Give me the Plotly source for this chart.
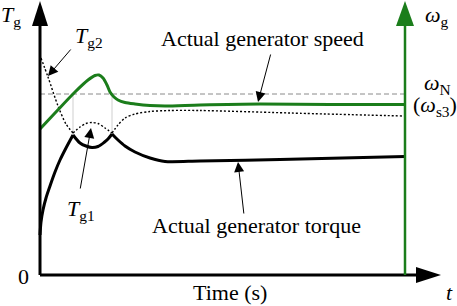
import plotly.graph_objects as go

# ---- data (time and value in arbitrary units; value 0 = time axis) ----
speed_t = [0, 15, 35, 48, 55, 59, 63, 67, 70, 74, 78, 85, 95, 110, 125, 160, 220, 290, 365]
speed_v = [146, 162, 183, 195, 199.5, 200, 197, 190, 183, 178, 175, 172.5, 171, 169.5, 169, 170, 171, 170.5, 170.5]

torque_t = [0, 1, 3, 6, 10, 15, 20, 26, 33, 40, 46, 52, 58, 64, 68, 72, 78, 85, 95, 110, 125, 160, 240, 365]
torque_v = [40, 53, 65, 77, 89, 103, 115, 127, 140, 132, 129, 127.5, 128.5, 132.5, 136, 141, 135, 129, 123, 117, 113.5, 114, 115.5, 118.5]
torque_cusps = [8, 15]

tg2_t = [1, 8, 18, 26, 33, 40, 46, 52, 58, 65, 72, 78, 85, 95, 110, 130, 160, 240, 260, 363]
tg2_v = [217, 198, 169, 151, 142, 148, 151.5, 152.5, 151.5, 147, 142, 150, 157, 161, 163.5, 164.5, 164.5, 162.3, 161.7, 159]
tg2_cusps = [4, 10]

omega_N = 181
T_END = 365

GREEN = "#1b7d1b"
FONT = "'Liberation Serif', 'Times New Roman', 'DejaVu Serif', serif"

fig = go.Figure()


def segments(xs, ys, cusps):
    idx = [0] + cusps + [len(xs) - 1]
    return [(xs[a:b + 1], ys[a:b + 1]) for a, b in zip(idx[:-1], idx[1:])]


# thin grey guide lines at the cusps
for i in torque_cusps:
    fig.add_trace(go.Scatter(x=[torque_t[i], torque_t[i]], y=[torque_v[i], omega_N], mode="lines",
                             line=dict(color="#cfcfcf", width=1), hoverinfo="skip", showlegend=False))

# rated speed dashed line
fig.add_trace(go.Scatter(x=[0, T_END], y=[omega_N, omega_N], mode="lines",
                         line=dict(color="#8a8a8a", width=1, dash="5px,3px"), showlegend=False))

# Tg2 dotted
for xs, ys in segments(tg2_t, tg2_v, tg2_cusps):
    fig.add_trace(go.Scatter(x=xs, y=ys, mode="lines", line=dict(color="black", width=1.4, dash="2px,2px",
                             shape="spline", smoothing=0.8), showlegend=False))

# actual torque
for xs, ys in segments(torque_t, torque_v, torque_cusps):
    fig.add_trace(go.Scatter(x=xs, y=ys, mode="lines", line=dict(color="black", width=3,
                             shape="spline", smoothing=0.8), showlegend=False))

# speed
fig.add_trace(go.Scatter(x=speed_t, y=speed_v, mode="lines", line=dict(color=GREEN, width=3,
                         shape="spline", smoothing=0.8), showlegend=False))

# ---- axes drawn as shapes ----
Y_TIP = 274
X_TIP = 401
HEAD_L = 25
HEAD_W = 8
shapes = [
    dict(type="line", x0=0, y0=0, x1=0, y1=Y_TIP - HEAD_L + 2, line=dict(color="black", width=3)),
    dict(type="path", path=f"M {-HEAD_W},{Y_TIP - HEAD_L} L {HEAD_W},{Y_TIP - HEAD_L} L 0,{Y_TIP} Z",
         fillcolor="black", line=dict(width=0)),
    dict(type="line", x0=0, y0=0, x1=X_TIP - HEAD_L + 2, y1=0, line=dict(color="black", width=3)),
    dict(type="path", path=f"M {X_TIP - HEAD_L},{-HEAD_W} L {X_TIP - HEAD_L},{HEAD_W} L {X_TIP},0 Z",
         fillcolor="black", line=dict(width=0)),
    dict(type="line", x0=T_END, y0=0, x1=T_END, y1=Y_TIP - HEAD_L + 2, line=dict(color=GREEN, width=2.5)),
    dict(type="path", path=f"M {T_END - HEAD_W - 1},{Y_TIP - HEAD_L} L {T_END + HEAD_W + 1},{Y_TIP - HEAD_L} L {T_END},{Y_TIP} Z",
         fillcolor=GREEN, line=dict(width=0)),
]

FS = 22
texts = [
    ("<i>T</i><sub>g</sub>", -29, 259),
    ("<i>T</i><sub>g2</sub>", 49, 238),
    ("Actual generator speed", 222, 237),
    ("<i>ω</i><sub>g</sub>", 397, 259),
    ("<i>ω</i><sub>N</sub>", 397, 191),
    ("(<i>ω</i><sub>s3</sub>)", 395, 169),
    ("<i>T</i><sub>g1</sub>", 41, 65),
    ("Actual generator torque", 216, 50),
    ("0", -17, -1),
    ("Time (s)", 190, -17),
    ("<i>t</i>", 409, -17),
]
annotations = [dict(text=t, x=x, y=y, xref="x", yref="y", showarrow=False,
                    font=dict(family=FONT, size=FS, color="black"), xanchor="center", yanchor="middle")
               for t, x, y in texts]

pointers = [  # (tip_x, tip_y, tail_x, tail_y)
    (8, 199, 32, 227),
    (218, 173, 231, 222),
    (51, 147, 40, 85),
    (198, 113, 204, 60),
]
for tx, ty, ax, ay in pointers:
    annotations.append(dict(x=tx, y=ty, ax=ax, ay=ay, xref="x", yref="y", axref="x", ayref="y",
                            text="", showarrow=True, arrowhead=2, arrowsize=2, arrowwidth=1,
                            arrowcolor="black"))

fig.update_layout(
    width=457, height=306,
    margin=dict(l=0, r=0, t=0, b=0),
    paper_bgcolor="white", plot_bgcolor="white",
    font=dict(family=FONT),
    xaxis=dict(range=[-40, 417], visible=False, fixedrange=True),
    yaxis=dict(range=[-31, 275], visible=False, fixedrange=True),
    shapes=shapes, annotations=annotations, showlegend=False,
)

fig.write_html("out.html", config=dict(displayModeBar=False),
               post_script="document.body.style.margin='0px';document.body.style.overflow='hidden';")
